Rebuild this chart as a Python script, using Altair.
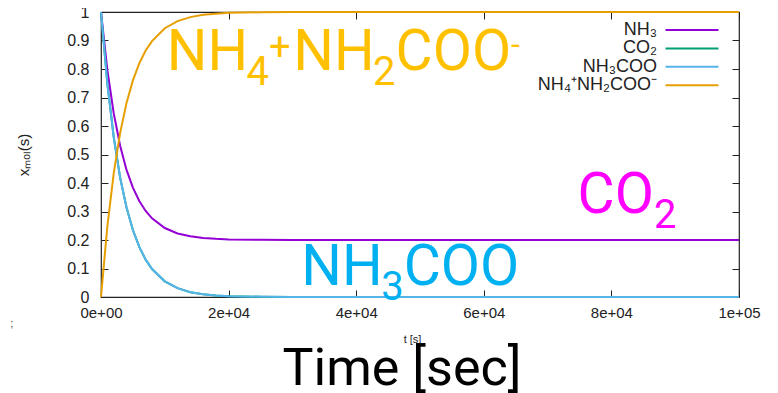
import altair as alt
import pandas as pd

# ---- data ----
t_s = [0, 1000, 2000, 3000, 4000, 5000, 6000, 7000, 8000, 10000, 12000, 14000,
       16000, 18000, 20000, 25000, 30000, 40000, 50000, 60000, 70000, 80000, 90000, 100000]
nh3 = [1.0, 0.796, 0.644, 0.531, 0.446, 0.384, 0.337, 0.302, 0.276, 0.242, 0.223, 0.213,
       0.207, 0.204, 0.202, 0.201, 0.2, 0.2, 0.2, 0.2, 0.2, 0.2, 0.2, 0.2]
co2 = [1.0, 0.748, 0.560, 0.419, 0.314, 0.235, 0.176, 0.131, 0.098, 0.055, 0.031, 0.017,
       0.010, 0.005, 0.003, 0.001, 0.0, 0.0, 0.0, 0.0, 0.0, 0.0, 0.0, 0.0]
nh3coo = [1.0, 0.748, 0.560, 0.419, 0.314, 0.235, 0.176, 0.131, 0.098, 0.055, 0.031, 0.017,
          0.010, 0.005, 0.003, 0.001, 0.0, 0.0, 0.0, 0.0, 0.0, 0.0, 0.0, 0.0]
nh4nh2coo = [0.0, 0.249, 0.435, 0.576, 0.681, 0.760, 0.820, 0.865, 0.898, 0.943, 0.968, 0.982,
             0.990, 0.994, 0.997, 0.999, 1.0, 1.0, 1.0, 1.0, 1.0, 1.0, 1.0, 1.0]

series_names = ["NH₃", "CO₂", "NH₃COO", "NH₄⁺NH₂COO⁻"]
series_colors = ["#9400D3", "#009E73", "#56B4E9", "#E69F00"]

x_ticks = [0, 20000, 40000, 60000, 80000, 100000]
x_tick_labels = ["0e+00", "2e+04", "4e+04", "6e+04", "8e+04", "1e+05"]
y_ticks = [0, 0.1, 0.2, 0.3, 0.4, 0.5, 0.6, 0.7, 0.8, 0.9, 1.0]

# in-plot annotations (text pieces, anchor in data units)
ann_parts = [["NH", "4", "+", "NH", "2", "COO", "-"], ["CO", "2"], ["NH", "3", "COO"]]
ann_t = [10300, 74700, 31400]
ann_y = [0.796, 0.293, 0.041]

stray_text = [";"]
stray_t = [-14000]
stray_y = [-0.095]

# ---- styles ----
ann_colors = ["#FFC000", "#FF00FF", "#00B0F0"]
ann_roles = [["m", "s", "p", "m", "s", "m", "q"], ["m", "s"], ["m", "s", "m"]]
ROLE_SIZE = {"m": 57, "s": 40, "p": 38, "q": 32}
ROLE_DY = {"m": 0, "s": 15, "p": -10, "q": -15}
ROBOTO_ADV = {"N": 0.700, "H": 0.700, "C": 0.652, "O": 0.687, "+": 0.64, "-": 0.276}


def adv(txt, size):
    return sum(ROBOTO_ADV.get(ch, 0.562) for ch in txt) * size


# ---- tables ----
rows = []
for name, vals in zip(series_names, [nh3, co2, nh3coo, nh4nh2coo]):
    for tt, v in zip(t_s, vals):
        rows.append({"t": tt, "x": v, "species": name})
df = pd.DataFrame(rows)

x_scale = alt.Scale(domain=[0, 100000], nice=False, zero=False)
y_scale = alt.Scale(domain=[0, 1], nice=False)

label_expr = "[" + ",".join("'" + s + "'" for s in x_tick_labels) + "][round(datum.value/20000)]"

TICK = 7
NEG_OFF = {"expr": str(-TICK)}
FONT = "Liberation Sans"

lines = alt.Chart(df).mark_line(strokeWidth=2).encode(
    x=alt.X("t:Q", scale=x_scale, axis=alt.Axis(
        orient="bottom", values=x_ticks, labelExpr=label_expr, title="t [s]",
        offset=NEG_OFF, tickSize=TICK, domain=False, grid=False, labelPadding=8,
        labelFont=FONT, labelFontSize=15, labelColor="#222", tickColor="#222",
        titleFont=FONT, titleFontSize=11, titleFontWeight="normal", titleColor="#222",
        titlePadding=13, titleX=311, labelFlush=False)),
    y=alt.Y("x:Q", scale=y_scale, axis=alt.Axis(
        orient="left", values=y_ticks, format=".1~f", title="xₘₒₗ(s)",
        offset=NEG_OFF, tickSize=TICK, domain=False, grid=False, labelPadding=12,
        labelFont=FONT, labelFontSize=16, labelColor="#222", tickColor="#222",
        titleFont=FONT, titleFontSize=15, titleFontWeight="normal", titleColor="#222",
        titlePadding=35, labelFlush=False)),
    color=alt.Color("species:N", scale=alt.Scale(domain=series_names, range=series_colors),
                    legend=alt.Legend(
                        title=None, orient="none", legendX=582, legendY=9,
                        symbolType="M -5 0 L 5 0", symbolSize=112, symbolStrokeWidth=2,
                        labelAlign="right", labelOffset={"expr": "-44"}, labelFont=FONT,
                        labelFontSize=18, labelColor="#222", rowPadding=0.4)),
)

mirror = alt.Chart(df).mark_line(opacity=0).encode(
    x=alt.X("t:Q", scale=x_scale, axis=alt.Axis(
        orient="top", values=x_ticks, labels=False, title=None, offset=NEG_OFF,
        tickSize=TICK, domain=False, grid=False, tickColor="#222")),
    y=alt.Y("x:Q", scale=y_scale, axis=alt.Axis(
        orient="right", values=y_ticks, labels=False, title=None, offset=NEG_OFF,
        tickSize=TICK, domain=False, grid=False, tickColor="#222")),
)

layers = [lines, mirror]
for parts, roles, tt, yy, col in zip(ann_parts, ann_roles, ann_t, ann_y, ann_colors):
    dx = 0.0
    for txt, role in zip(parts, roles):
        size = ROLE_SIZE[role]
        d = pd.DataFrame({"t": [tt], "x": [yy], "label": [txt]})
        layers.append(alt.Chart(d).mark_text(
            font="Roboto", fontSize=size, color=col, align="left", baseline="alphabetic",
            dx=round(dx, 1), dy=ROLE_DY[role]
        ).encode(x=alt.X("t:Q", scale=x_scale, axis=None),
                 y=alt.Y("x:Q", scale=y_scale, axis=None), text="label:N"))
        dx += adv(txt, size)

stray = pd.DataFrame({"t": stray_t, "x": stray_y, "label": stray_text})
layers.append(alt.Chart(stray).mark_text(
    font=FONT, fontSize=11, color="#444", align="center", clip=False
).encode(x=alt.X("t:Q", scale=x_scale, axis=None),
         y=alt.Y("x:Q", scale=y_scale, axis=None), text="label:N"))

chart = alt.layer(*layers).resolve_axis(x="independent", y="independent").properties(
    width=638, height=285,
    padding={"left": 93, "top": 4, "right": 31, "bottom": 96},
    autosize=alt.AutoSizeParams(type="none"),
    title=alt.TitleParams("Time [sec]", orient="bottom", font="Roboto", fontSize=52,
                          fontWeight="normal", color="black", offset=0, dx=-18),
).configure_view(stroke="#222", strokeWidth=1.2)

chart.save("out.html", embed_options={"renderer": "svg", "actions": False})
